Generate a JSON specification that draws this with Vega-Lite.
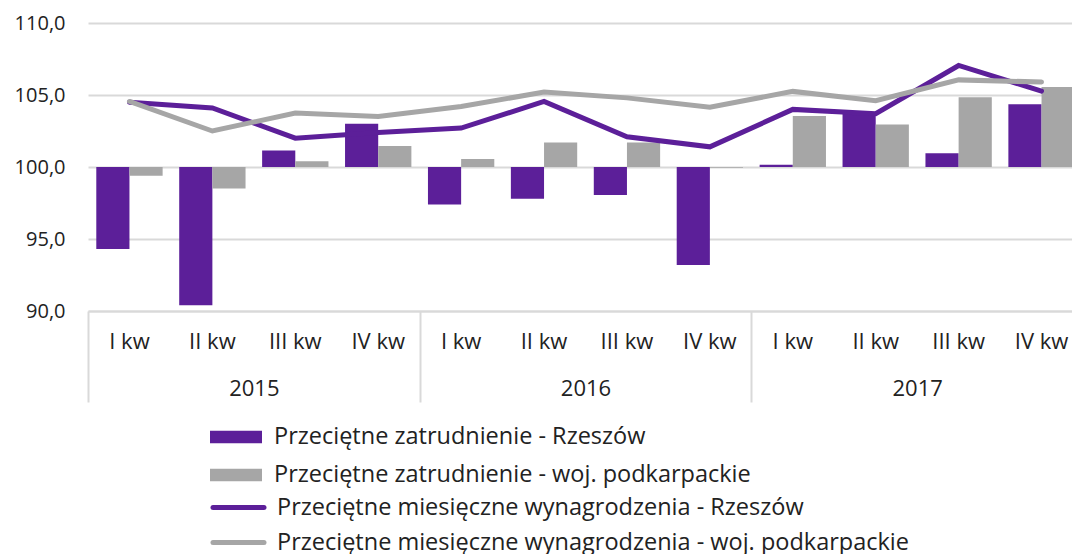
{
  "$schema": "https://vega.github.io/schema/vega-lite/v6.json",
  "autosize": {"type": "none"},
  "width": 984,
  "height": 288,
  "padding": {"left": 88, "top": 23, "right": 0, "bottom": 243},
  "background": "white",
  "config": {
    "font": "Open Sans",
    "view": {"stroke": null},
    "axis": {"labelColor": "#222222", "labelFont": "Open Sans"},
    "legend": {"labelFont": "Open Sans", "labelColor": "#222222"}
  },
  "datasets": {
    "bars": [
      {"q": "2015|I kw", "year": "2015", "series": "Przeciętne zatrudnienie - Rzeszów", "value": 94.3},
      {"q": "2015|I kw", "year": "2015", "series": "Przeciętne zatrudnienie - woj. podkarpackie", "value": 99.4},
      {"q": "2015|II kw", "year": "2015", "series": "Przeciętne zatrudnienie - Rzeszów", "value": 90.4},
      {"q": "2015|II kw", "year": "2015", "series": "Przeciętne zatrudnienie - woj. podkarpackie", "value": 98.5},
      {"q": "2015|III kw", "year": "2015", "series": "Przeciętne zatrudnienie - Rzeszów", "value": 101.15},
      {"q": "2015|III kw", "year": "2015", "series": "Przeciętne zatrudnienie - woj. podkarpackie", "value": 100.4},
      {"q": "2015|IV kw", "year": "2015", "series": "Przeciętne zatrudnienie - Rzeszów", "value": 103.0},
      {"q": "2015|IV kw", "year": "2015", "series": "Przeciętne zatrudnienie - woj. podkarpackie", "value": 101.45},
      {"q": "2016|I kw", "year": "2016", "series": "Przeciętne zatrudnienie - Rzeszów", "value": 97.4},
      {"q": "2016|I kw", "year": "2016", "series": "Przeciętne zatrudnienie - woj. podkarpackie", "value": 100.55},
      {"q": "2016|II kw", "year": "2016", "series": "Przeciętne zatrudnienie - Rzeszów", "value": 97.8},
      {"q": "2016|II kw", "year": "2016", "series": "Przeciętne zatrudnienie - woj. podkarpackie", "value": 101.7},
      {"q": "2016|III kw", "year": "2016", "series": "Przeciętne zatrudnienie - Rzeszów", "value": 98.05},
      {"q": "2016|III kw", "year": "2016", "series": "Przeciętne zatrudnienie - woj. podkarpackie", "value": 101.7},
      {"q": "2016|IV kw", "year": "2016", "series": "Przeciętne zatrudnienie - Rzeszów", "value": 93.2},
      {"q": "2016|IV kw", "year": "2016", "series": "Przeciętne zatrudnienie - woj. podkarpackie", "value": 99.95},
      {"q": "2017|I kw", "year": "2017", "series": "Przeciętne zatrudnienie - Rzeszów", "value": 100.15},
      {"q": "2017|I kw", "year": "2017", "series": "Przeciętne zatrudnienie - woj. podkarpackie", "value": 103.55},
      {"q": "2017|II kw", "year": "2017", "series": "Przeciętne zatrudnienie - Rzeszów", "value": 103.7},
      {"q": "2017|II kw", "year": "2017", "series": "Przeciętne zatrudnienie - woj. podkarpackie", "value": 102.95},
      {"q": "2017|III kw", "year": "2017", "series": "Przeciętne zatrudnienie - Rzeszów", "value": 100.95},
      {"q": "2017|III kw", "year": "2017", "series": "Przeciętne zatrudnienie - woj. podkarpackie", "value": 104.85},
      {"q": "2017|IV kw", "year": "2017", "series": "Przeciętne zatrudnienie - Rzeszów", "value": 104.35},
      {"q": "2017|IV kw", "year": "2017", "series": "Przeciętne zatrudnienie - woj. podkarpackie", "value": 105.55}
    ],
    "lines": [
      {"q": "2015|I kw", "series": "Przeciętne miesięczne wynagrodzenia - Rzeszów", "value": 104.5},
      {"q": "2015|II kw", "series": "Przeciętne miesięczne wynagrodzenia - Rzeszów", "value": 104.1},
      {"q": "2015|III kw", "series": "Przeciętne miesięczne wynagrodzenia - Rzeszów", "value": 102.0},
      {"q": "2015|IV kw", "series": "Przeciętne miesięczne wynagrodzenia - Rzeszów", "value": 102.4},
      {"q": "2016|I kw", "series": "Przeciętne miesięczne wynagrodzenia - Rzeszów", "value": 102.7},
      {"q": "2016|II kw", "series": "Przeciętne miesięczne wynagrodzenia - Rzeszów", "value": 104.55},
      {"q": "2016|III kw", "series": "Przeciętne miesięczne wynagrodzenia - Rzeszów", "value": 102.1},
      {"q": "2016|IV kw", "series": "Przeciętne miesięczne wynagrodzenia - Rzeszów", "value": 101.4},
      {"q": "2017|I kw", "series": "Przeciętne miesięczne wynagrodzenia - Rzeszów", "value": 104.0},
      {"q": "2017|II kw", "series": "Przeciętne miesięczne wynagrodzenia - Rzeszów", "value": 103.7},
      {"q": "2017|III kw", "series": "Przeciętne miesięczne wynagrodzenia - Rzeszów", "value": 107.05},
      {"q": "2017|IV kw", "series": "Przeciętne miesięczne wynagrodzenia - Rzeszów", "value": 105.27},
      {"q": "2015|I kw", "series": "Przeciętne miesięczne wynagrodzenia - woj. podkarpackie", "value": 104.55},
      {"q": "2015|II kw", "series": "Przeciętne miesięczne wynagrodzenia - woj. podkarpackie", "value": 102.5},
      {"q": "2015|III kw", "series": "Przeciętne miesięczne wynagrodzenia - woj. podkarpackie", "value": 103.75},
      {"q": "2015|IV kw", "series": "Przeciętne miesięczne wynagrodzenia - woj. podkarpackie", "value": 103.5},
      {"q": "2016|I kw", "series": "Przeciętne miesięczne wynagrodzenia - woj. podkarpackie", "value": 104.2},
      {"q": "2016|II kw", "series": "Przeciętne miesięczne wynagrodzenia - woj. podkarpackie", "value": 105.2},
      {"q": "2016|III kw", "series": "Przeciętne miesięczne wynagrodzenia - woj. podkarpackie", "value": 104.8},
      {"q": "2016|IV kw", "series": "Przeciętne miesięczne wynagrodzenia - woj. podkarpackie", "value": 104.15},
      {"q": "2017|I kw", "series": "Przeciętne miesięczne wynagrodzenia - woj. podkarpackie", "value": 105.25},
      {"q": "2017|II kw", "series": "Przeciętne miesięczne wynagrodzenia - woj. podkarpackie", "value": 104.6},
      {"q": "2017|III kw", "series": "Przeciętne miesięczne wynagrodzenia - woj. podkarpackie", "value": 106.05},
      {"q": "2017|IV kw", "series": "Przeciętne miesięczne wynagrodzenia - woj. podkarpackie", "value": 105.9}
    ]
  },
  "resolve": {"scale": {"x": "independent"}, "axis": {"x": "independent"}},
  "layer": [
    {
      "layer": [
        {
          "data": {"name": "bars"},
          "mark": {"type": "bar"},
          "encoding": {
            "x": {
              "field": "q", "type": "nominal", "sort": null,
              "scale": {"range": [0, 995], "paddingInner": 0.2, "paddingOuter": 0.1},
              "axis": {
                "orient": "bottom", "title": null, "ticks": false, "grid": false,
                "domain": true, "domainColor": "#D9D9D9", "domainWidth": 2,
                "labelAngle": 0, "labelFontSize": 22, "labelPadding": 20,
                "labelExpr": "split(datum.label, '|')[1]"
              }
            },
            "xOffset": {
              "field": "series", "type": "nominal",
              "sort": ["Przeciętne zatrudnienie - Rzeszów", "Przeciętne zatrudnienie - woj. podkarpackie"],
              "scale": {"paddingInner": 0, "paddingOuter": 0}
            },
            "y": {
              "field": "value", "type": "quantitative",
              "scale": {"domain": [90, 110], "zero": false, "nice": false},
              "axis": {
                "title": null, "values": [90, 95, 100, 105, 110], "ticks": false,
                "domain": false, "grid": true, "gridColor": "#D9D9D9", "gridWidth": 2,
                "labelFontSize": 20, "labelPadding": 23,
                "labelExpr": "replace(format(datum.value, '.1f'), '.', ',')"
              }
            },
            "y2": {"datum": 100},
            "fill": {
              "field": "series", "type": "nominal",
              "scale": {
                "domain": ["Przeciętne zatrudnienie - Rzeszów", "Przeciętne zatrudnienie - woj. podkarpackie"],
                "range": ["#5C1F99", "#A6A6A6"]
              },
              "legend": {
                "title": null, "orient": "none", "legendX": 122, "legendY": 388,
                "direction": "vertical", "symbolType": "M-1,-0.245H1V0.245H-1Z",
                "symbolSize": 2704, "symbolStrokeWidth": 0, "labelFontSize": 23.5,
                "labelOffset": 12, "rowPadding": -2, "padding": 0, "labelLimit": 800
              }
            }
          }
        },
        {
          "data": {"name": "lines"},
          "mark": {"type": "line", "strokeWidth": 5, "strokeCap": "round"},
          "encoding": {
            "x": {"field": "q", "type": "nominal", "sort": null},
            "y": {"field": "value", "type": "quantitative"},
            "stroke": {
              "field": "series", "type": "nominal",
              "scale": {
                "domain": ["Przeciętne miesięczne wynagrodzenia - Rzeszów", "Przeciętne miesięczne wynagrodzenia - woj. podkarpackie"],
                "range": ["#5C1F99", "#A6A6A6"]
              },
              "legend": {
                "title": null, "orient": "none", "legendX": 135, "legendY": 469,
                "direction": "vertical", "symbolType": "M-2,0H2",
                "symbolSize": 650, "symbolStrokeWidth": 5, "labelFontSize": 23.5,
                "labelOffset": 23, "rowPadding": 8, "padding": 0, "labelLimit": 800,
                "encode": {"symbols": {"update": {"strokeCap": {"value": "round"}}}}
              }
            },
            "order": {"field": "series", "type": "nominal", "sort": "descending"}
          }
        }
      ]
    },
    {
      "data": {"name": "bars"},
      "mark": {"type": "text", "text": ""},
      "encoding": {
        "x": {
          "field": "year", "type": "nominal",
          "scale": {"range": [0, 995], "paddingInner": 0, "paddingOuter": 0},
          "axis": {
            "orient": "bottom", "title": null, "domain": false, "grid": false,
            "ticks": true, "tickBand": "extent", "tickSize": 91, "tickColor": "#D9D9D9",
            "tickWidth": 2, "labelAngle": 0, "labelFontSize": 22, "labelPadding": -24
          }
        }
      }
    }
  ]
}
